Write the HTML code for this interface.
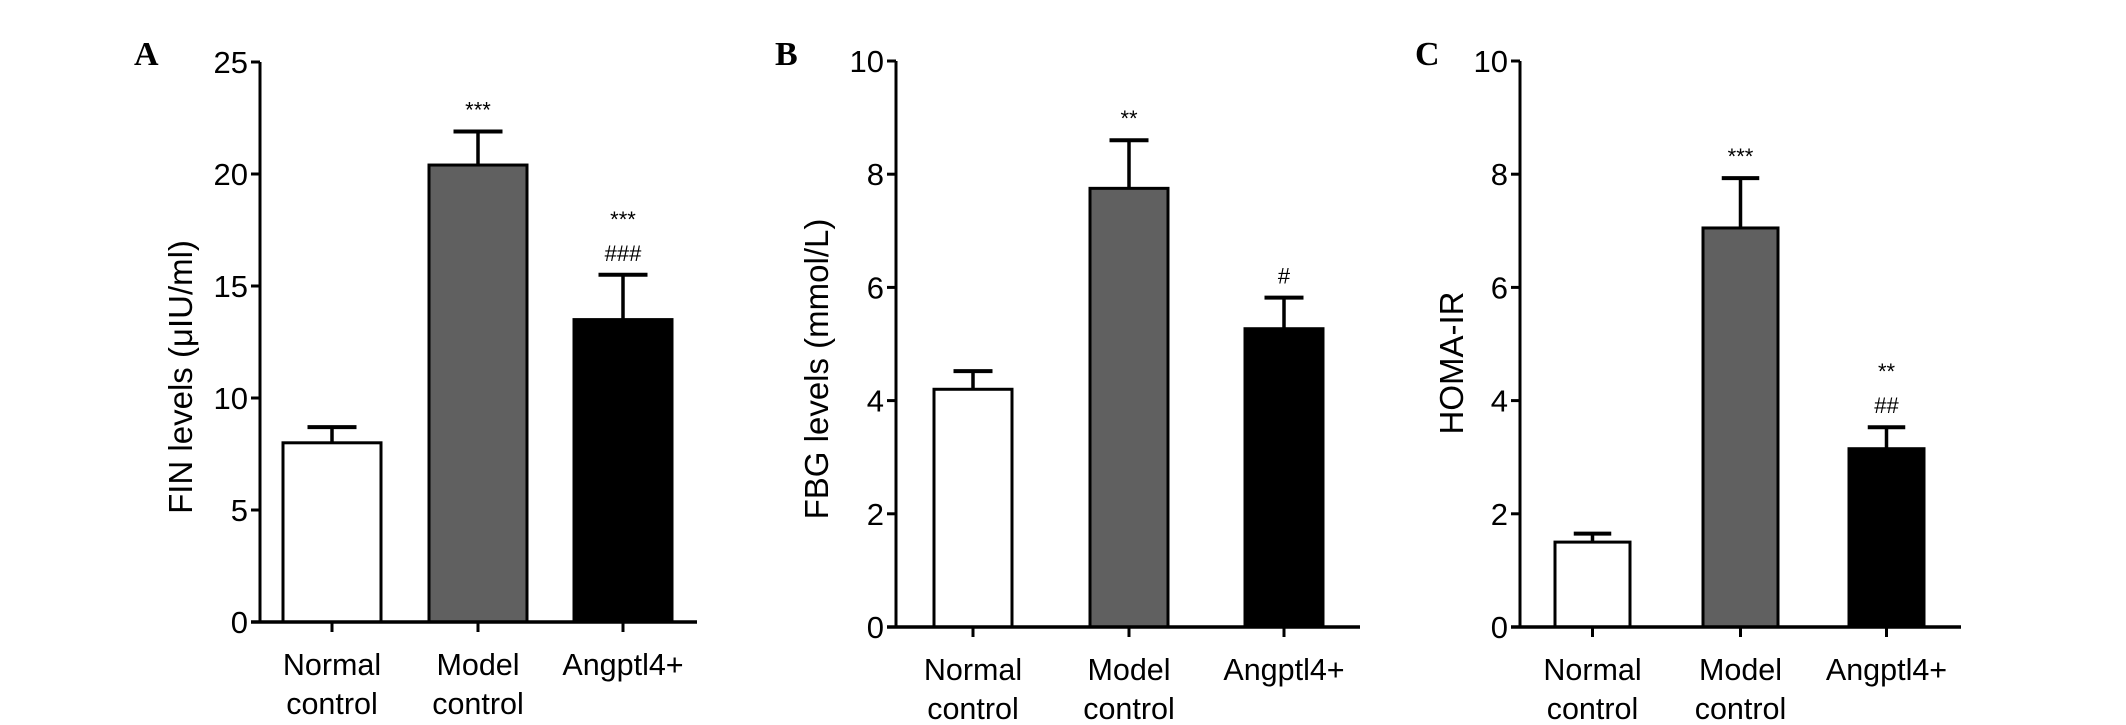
<!DOCTYPE html>
<html><head><meta charset="utf-8"><style>
html,body{margin:0;padding:0;background:#fff;}
svg{display:block;}
text{font-family:"Liberation Sans",Arial,sans-serif;fill:#000;}
</style></head><body>
<svg id="fig" width="2126" height="725" viewBox="0 0 2126 725" xmlns="http://www.w3.org/2000/svg"></svg>
<script>
const categories = [["Normal","control"],["Model","control"],["Angptl4+"]];
const barColors = ["#ffffff","#606060","#000000"];
const finValues = [8.0, 20.4, 13.5];
const finErrors = [0.7, 1.5, 2.0];
const finTicks = [0,5,10,15,20,25];
const finMarks = [[], ["***"], ["***","###"]];
const fbgValues = [4.2, 7.75, 5.27];
const fbgErrors = [0.32, 0.85, 0.55];
const fbgTicks = [0,2,4,6,8,10];
const fbgMarks = [[], ["**"], ["#"]];
const homaValues = [1.5, 7.05, 3.15];
const homaErrors = [0.15, 0.88, 0.38];
const homaTicks = [0,2,4,6,8,10];
const homaMarks = [[], ["***"], ["**","##"]];

const NS = "http://www.w3.org/2000/svg";
const svg = document.getElementById("fig");
function mk(tag, attrs, parent){const e=document.createElementNS(NS,tag);for(const k in attrs)e.setAttribute(k,attrs[k]);(parent||svg).appendChild(e);return e;}

const panels = [
 {letter:"A", title:"FIN levels (\u03bcIU/ml)", values:finValues, errors:finErrors, ticks:finTicks, marks:finMarks,
  ax:260, y0:622, yTop:62, xEnd:697, bars:[283,429,574], bw:98, titleX:181, titleY:377, lx:134},
 {letter:"B", title:"FBG levels (mmol/L)", values:fbgValues, errors:fbgErrors, ticks:fbgTicks, marks:fbgMarks,
  ax:896, y0:627, yTop:61, xEnd:1360, bars:[934,1090,1245], bw:78, titleX:817, titleY:369, lx:775},
 {letter:"C", title:"HOMA-IR", values:homaValues, errors:homaErrors, ticks:homaTicks, marks:homaMarks,
  ax:1520, y0:627, yTop:61, xEnd:1961, bars:[1555,1703,1849], bw:75, titleX:1452, titleY:363, lx:1415}
];

panels.forEach((p,pi)=>{
  const g = mk("g",{});
  
  
  const maxV = p.ticks[p.ticks.length-1];
  const y = v => p.y0 - (v/maxV)*(p.y0-p.yTop);
  const L = mk("text",{x:p.lx,y:65,"font-size":34,"font-weight":"bold",style:"font-family:'Liberation Serif',serif"},g);
  L.textContent = p.letter;
  
  
  const T = mk("text",{x:0,y:0,"font-size":33,"text-anchor":"middle",transform:`translate(${p.titleX+11},${p.titleY}) rotate(-90)`},g);
  T.textContent = p.title;
  
  
  p.values.forEach((v,i)=>{
    const x = p.bars[i];
    const cx = x + p.bw/2;
    const top = y(v), et = y(v+p.errors[i]);
    const cw = p.bw*0.5;
    const el = mk("line",{x1:cx,x2:cx,y1:top,y2:et,stroke:"#000","stroke-width":3.5},g);
    
    
    const cap = mk("line",{x1:cx-cw/2,x2:cx+cw/2,y1:et,y2:et,stroke:"#000","stroke-width":4},g);
    
    
    const r = mk("rect",{x:x,y:top,width:p.bw,height:p.y0-top,fill:barColors[i],stroke:"#000","stroke-width":3},g);
    
    
    const ms = p.marks[i];
    ms.forEach((m,k)=>{
      const ty = et - 14 - (ms.length-1-k)*34;
      const t = mk("text",{x:cx,y:ty,"font-size":22,"text-anchor":"middle"},g);
      t.textContent = m;
      
      
    });
    const tk = mk("line",{x1:cx,x2:cx,y1:p.y0,y2:p.y0+10,stroke:"#000","stroke-width":3},g);
    
    
    categories[i].forEach((line,li)=>{
      const t = mk("text",{x:cx,y:p.y0+53+li*39,"font-size":30.5,"text-anchor":"middle"},g);
      t.textContent = line;
      
      
    });
  });
  const ya = mk("line",{x1:p.ax,x2:p.ax,y1:p.yTop,y2:p.y0,stroke:"#000","stroke-width":3},g);
  
  
  const xa = mk("line",{x1:p.ax-9,x2:p.xEnd,y1:p.y0,y2:p.y0,stroke:"#000","stroke-width":3.5},g);
  
  
  p.ticks.forEach(tv=>{
    const ty = y(tv);
    const tl = mk("line",{x1:p.ax-9,x2:p.ax,y1:ty,y2:ty,stroke:"#000","stroke-width":3},g);
    
    
    const t = mk("text",{x:p.ax-12,y:ty+11,"font-size":31,"text-anchor":"end"},g);
    t.textContent = tv;
    
    
  });
});
</script>
</body></html>
